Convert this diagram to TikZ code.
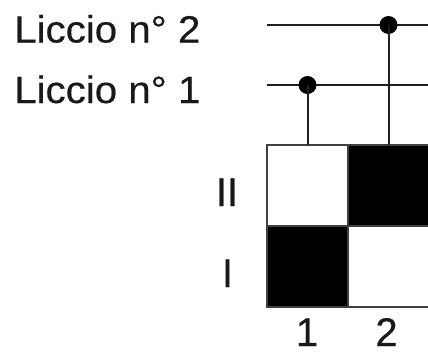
\documentclass[tikz,border=0pt]{standalone}
\usepackage{fontspec}
\usepackage{graphicx}
\setmainfont{Liberation Sans}
\newfontfamily\heavyfont[FakeBold=0.4]{Liberation Sans}
\begin{document}
\begin{tikzpicture}[x=1pt,y=-1pt,
  lbl/.style={font=\heavyfont\fontsize{38}{42}\selectfont, anchor=base west, inner sep=0pt, text=black!90},
  num/.style={font=\heavyfont\fontsize{40}{44}\selectfont, anchor=base, inner sep=0pt, text=black!90},
  cell/.style={draw=black!75, line width=1.3pt, minimum width=81pt, minimum height=81pt, inner sep=0pt, outer sep=0pt},
  wire/.style={draw=black!88, line width=2pt},
  dot/.style={circle, fill=black, inner sep=0pt, minimum size=18pt}]
\useasboundingbox (0,0) rectangle (428,354);
\clip (0,0) rectangle (428,354);
% grid
\node[cell, fill=white] (c1b) at (307.5,185.5) {};
\node[cell, fill=black] (c2b) at (388.5,185.5) {};
\node[cell, fill=black] (c1a) at (307.5,266.5) {};
\node[cell, fill=white] (c2a) at (388.5,266.5) {};
% labels
\node[lbl] (t2) at (14,42.5) {\scalebox{1.06}[1]{Liccio n° 2}};
\node[lbl] (t1) at (14,103) {\scalebox{1.06}[1]{Liccio n° 1}};
\node[num] (rII) at (227,206) {II};
\node[num] (rI) at (227.5,287) {I};
\node[num] (k1) at (307,346) {1};
\node[num] (k2) at (386.5,346) {2};
% wires
\coordinate (w2s) at (267,25);
\coordinate (w2e) at (430,25);
\coordinate (w1s) at (267,85);
\coordinate (w1e) at (430,85);
\draw[wire] (w2s) -- (w2e);
\draw[wire] (w1s) -- (w1e);
\node[dot] (d1) at (307.5,85) {};
\node[dot] (d2) at (388.5,25) {};
\draw[wire] (d1.center) -- (c1b.north);
\draw[wire] (d2.center) -- (c2b.north);
\end{tikzpicture}
\end{document}
